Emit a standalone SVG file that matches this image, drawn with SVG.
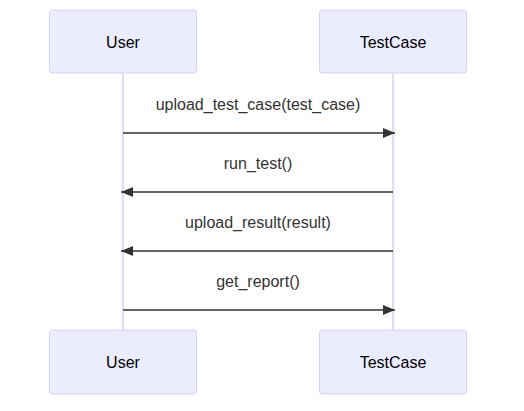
<svg xmlns="http://www.w3.org/2000/svg" width="524" height="411" viewBox="0 0 524 411">
<defs>
<style>
.actor{fill:#ececff;stroke:#d6d0f5;stroke-width:1}
.atext{font-family:"Liberation Sans",Arial,sans-serif;font-size:16px;fill:#000;text-anchor:middle;dominant-baseline:central}
.life{stroke:#d6d0f5;stroke-width:1.5}
.msg{stroke:#333;stroke-width:1.5;fill:none;marker-end:url(#ah)}
.mtext{font-family:"Liberation Sans",Arial,sans-serif;font-size:16px;fill:#333;text-anchor:middle;dominant-baseline:central}
</style>
<marker id="ah" viewBox="0 0 12 10" refX="12" refY="5" markerWidth="12" markerHeight="10" markerUnits="userSpaceOnUse" orient="auto">
<path d="M0,0 L12,5 L0,10 z" fill="#333"/>
</marker>
</defs>
<rect width="524" height="411" fill="#fff"/>
<g id="lifelines">
<line class="life" x1="123" y1="73" x2="123" y2="330"/>
<line class="life" x1="393" y1="73" x2="393" y2="330"/>
</g>
<g id="User_top"><rect class="actor" x="49.5" y="10" width="147" height="63" rx="3"/><text class="atext" x="123" y="42">User</text></g>
<g id="TestCase_top"><rect class="actor" x="319.5" y="10" width="147" height="63" rx="3"/><text class="atext" x="393" y="42">TestCase</text></g>
<g id="User_bottom"><rect class="actor" x="49.5" y="330" width="147" height="64" rx="3"/><text class="atext" x="123" y="362">User</text></g>
<g id="TestCase_bottom"><rect class="actor" x="319.5" y="330" width="147" height="64" rx="3"/><text class="atext" x="393" y="362">TestCase</text></g>
<g id="connectors">
<line class="msg" x1="123" y1="133" x2="395" y2="133"/>
<text class="mtext" x="258" y="104">upload_test_case(test_case)</text>
<line class="msg" x1="393" y1="192" x2="121" y2="192"/>
<text class="mtext" x="258" y="163">run_test()</text>
<line class="msg" x1="393" y1="251" x2="121" y2="251"/>
<text class="mtext" x="258" y="222">upload_result(result)</text>
<line class="msg" x1="123" y1="310" x2="395" y2="310"/>
<text class="mtext" x="258" y="281">get_report()</text>
</g>
</svg>
